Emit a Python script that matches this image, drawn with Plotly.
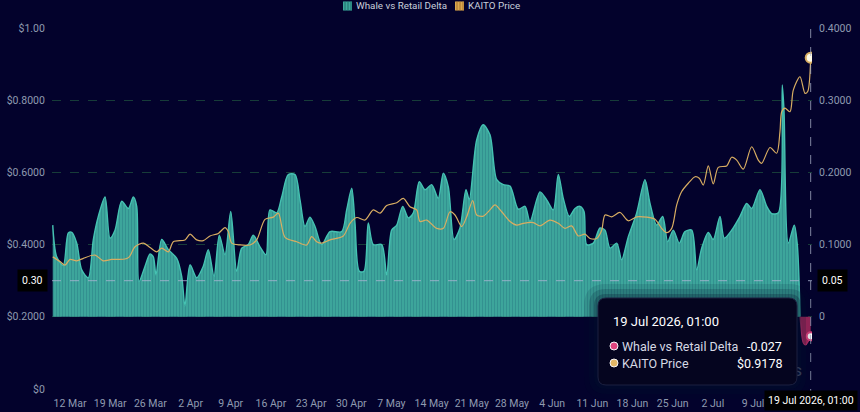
import pandas as pd
import plotly.graph_objects as go

# ---------------- data ----------------
ORIGIN = pd.Timestamp("2026-03-12 00:00")  # day offsets are measured from here

delta_days = [-3.01, -2.32, -1.17, -0.30, 0.30, 1.17, 2.04, 3.19, 4.06, 4.93, 6.10, 6.97, 7.84,
              9.01, 10.16, 11.03, 11.62, 12.02, 13.07, 13.94, 14.51, 14.98, 15.98, 17.13, 18.59,
              19.46, 20.03, 20.91, 22.07, 23.22, 24.09, 25.09, 26.01, 27.00, 28.00, 29.04, 29.91,
              31.06, 31.93, 33.10, 34.15, 34.84, 36.01, 36.88, 38.03, 39.20, 40.07, 40.94, 41.81,
              42.68, 43.85, 45.30, 47.33, 48.20, 49.08, 49.65, 50.40, 51.22, 51.97, 52.84, 54.30,
              55.17, 56.04, 56.92, 57.96, 58.94, 59.81, 60.85, 61.85, 63.01, 64.16, 65.04, 65.91,
              66.90, 67.94, 68.99, 69.56, 70.85, 72.00, 73.17, 74.34, 75.49, 76.66, 78.10, 79.27,
              80.14, 81.88, 83.05, 84.20, 85.07, 85.94, 86.99, 87.98, 88.85, 89.55, 90.02, 91.17,
              92.33, 93.21, 94.08, 95.24, 96.11, 97.27, 98.73, 100.17, 101.05, 102.21, 103.26,
              104.13, 105.10, 106.15, 107.14, 108.31, 109.18, 110.05, 111.20, 112.07, 113.24,
              113.99, 115.28, 116.72, 117.89, 118.76, 120.21, 121.38, 122.25, 123.40, 124.09,
              124.39, 125.14, 126.18, 126.71, 127.20]
delta_vals = [0.127, 0.083, 0.071, 0.116, 0.117, 0.102, 0.065, 0.054, 0.107, 0.139, 0.166, 0.109, 0.120,
              0.160, 0.150, 0.166, 0.153, 0.049, 0.070, 0.087, 0.083, 0.058, 0.107, 0.093, 0.081,
              0.056, 0.015, 0.072, 0.054, 0.070, 0.093, 0.056, 0.113, 0.086, 0.146, 0.063, 0.095,
              0.100, 0.113, 0.097, 0.086, 0.148, 0.144, 0.166, 0.197, 0.197, 0.162, 0.125, 0.138,
              0.125, 0.100, 0.118, 0.118, 0.148, 0.178, 0.130, 0.063, 0.063, 0.130, 0.100, 0.100,
              0.058, 0.120, 0.127, 0.153, 0.137, 0.144, 0.187, 0.176, 0.183, 0.164, 0.199, 0.180,
              0.107, 0.123, 0.176, 0.162, 0.245, 0.266, 0.252, 0.190, 0.183, 0.181, 0.149, 0.153,
              0.132, 0.173, 0.162, 0.148, 0.197, 0.164, 0.139, 0.150, 0.153, 0.146, 0.100, 0.102,
              0.123, 0.120, 0.095, 0.102, 0.079, 0.111, 0.144, 0.190, 0.157, 0.127, 0.139,
              0.104, 0.120, 0.102, 0.118, 0.120, 0.065, 0.095, 0.117, 0.107, 0.139,
              0.109, 0.120, 0.139, 0.157, 0.150, 0.176, 0.153, 0.143, 0.144, 0.321,
              0.286, 0.102, 0.127, 0.100, 0.000]

neg_days = [127.20, 127.75, 128.17, 128.62, 129.0417]
neg_vals = [0.000, -0.036, -0.039, -0.034, -0.027]

price_days = [-3.01, -1.74, -0.87, 0.00, 1.17, 2.32, 4.36, 5.80, 7.26, 9.58, 10.33, 11.32, 12.77,
              13.94, 15.10, 15.98, 17.13, 18.00, 20.03, 20.91, 22.07, 23.22, 24.39, 25.84, 27.00,
              27.58, 28.17, 29.62, 31.36, 32.53, 33.97, 35.42, 36.29, 37.46, 39.49, 41.24, 42.11,
              42.98, 43.85, 45.30, 47.61, 48.78, 49.95, 51.39, 52.84, 54.01, 55.17, 56.92, 58.07,
              59.23, 60.40, 60.98, 62.14, 63.89, 65.04, 66.20, 67.07, 68.24, 69.11, 70.16, 70.85,
              72.00, 73.17, 74.04, 75.21, 76.66, 77.82, 78.97, 80.71, 81.88, 83.62, 85.07, 86.24,
              87.40, 88.55, 89.72, 90.59, 91.76, 92.63, 93.21, 94.37, 95.82, 97.26, 98.73, 100.47,
              101.92, 103.08, 103.95, 104.83, 105.70, 106.57, 107.72, 108.89, 109.63, 110.33,
              111.20, 112.07, 112.94, 114.41, 115.28, 116.15, 117.30, 118.76, 119.91, 120.50,
              121.95, 123.12, 123.69, 123.99, 124.56, 125.44, 126.01, 127.18, 128.05, 128.52,
              129.0417]
price_vals = [0.366, 0.353, 0.343, 0.359, 0.355, 0.362, 0.371, 0.355, 0.359, 0.360, 0.366, 0.394, 0.404,
              0.392, 0.380, 0.390, 0.380, 0.408, 0.413, 0.429, 0.413, 0.411, 0.424, 0.431, 0.447,
              0.436, 0.404, 0.399, 0.399, 0.413, 0.470, 0.476, 0.487, 0.420, 0.408, 0.399, 0.422,
              0.408, 0.404, 0.413, 0.424, 0.459, 0.475, 0.468, 0.496, 0.487, 0.508, 0.516, 0.528,
              0.505, 0.496, 0.464, 0.468, 0.445, 0.445, 0.491, 0.482, 0.450, 0.477, 0.522, 0.482,
              0.479, 0.496, 0.510, 0.491, 0.464, 0.454, 0.459, 0.461, 0.452, 0.468, 0.459, 0.445,
              0.452, 0.424, 0.429, 0.417, 0.417, 0.440, 0.482, 0.477, 0.489, 0.466, 0.477, 0.476,
              0.470, 0.445, 0.433, 0.445, 0.510, 0.547, 0.570, 0.588, 0.584, 0.565,
              0.618, 0.568, 0.614, 0.618, 0.642, 0.634, 0.609, 0.671, 0.634, 0.625,
              0.669, 0.653, 0.713, 0.768, 0.778, 0.768, 0.828, 0.865, 0.819, 0.824,
              0.9178]

tick_dates = ["2026-03-12", "2026-03-19", "2026-03-26", "2026-04-02", "2026-04-09", "2026-04-16",
              "2026-04-23", "2026-04-30", "2026-05-07", "2026-05-14", "2026-05-21", "2026-05-28",
              "2026-06-04", "2026-06-11", "2026-06-18", "2026-06-25", "2026-07-02", "2026-07-09"]
price_ticks = [0, 0.2, 0.4, 0.6, 0.8, 1.0]
price_tick_text = ["$0", "$0.2000", "$0.4000", "$0.6000", "$0.8000", "$1.00"]
delta_ticks = [0, 0.1, 0.2, 0.3, 0.4]
delta_tick_text = ["0", "0.1000", "0.2000", "0.3000", "0.4000"]

series_names = ["Whale vs Retail Delta", "KAITO Price"]
cursor_date = "2026-07-19 01:00"
cursor_label = "19 Jul 2026, 01:00"
cursor_price = 0.30
cursor_delta = 0.05
last_delta = -0.027
last_price = 0.9178

# ---------------- styling ----------------
BG = "#03022c"
TEAL = "#3da69c"
TEAL_STRIPE = "#2a7c84"
TEAL_LINE = "#45c2b2"
RED = "#a3265c"
RED_LINE = "#c2306c"
GOLD = "#d8ad62"
AXIS_TXT = "#8f9bb0"
FONT = "Roboto, DejaVu Sans, sans-serif"

W, H = 860, 412
L, R, T, B = 52, 812, 28, 389  # plot area in pixels


def px(x):
    return (x - L) / (R - L)


def py(y):
    return (B - y) / (B - T)


def to_dates(days):
    return [ORIGIN + pd.Timedelta(days=d) for d in days]


fig = go.Figure()

# delta (base axis "y", right side)
fig.add_trace(go.Scatter(
    x=to_dates(delta_days), y=delta_vals, mode="lines", yaxis="y", name=series_names[0],
    line=dict(color=TEAL_LINE, width=1.4, shape="spline", smoothing=0.8),
    fill="tozeroy", fillcolor=TEAL,
    fillpattern=dict(shape="|", fgcolor=TEAL_STRIPE, bgcolor=TEAL, size=3, solidity=0.4),
    showlegend=False, hoverinfo="skip"))
fig.add_trace(go.Scatter(
    x=to_dates(neg_days), y=neg_vals, mode="lines", yaxis="y", name=series_names[0],
    line=dict(color=RED_LINE, width=1.2, shape="spline", smoothing=0.8),
    fill="tozeroy", fillcolor=RED,
    showlegend=False, hoverinfo="skip"))

# price (overlay axis "y2", left side)
fig.add_trace(go.Scatter(
    x=to_dates(price_days), y=price_vals, mode="lines", yaxis="y2", name=series_names[1],
    line=dict(color=GOLD, width=1.2, shape="spline", smoothing=0.8),
    showlegend=False, hoverinfo="skip"))

# end-point markers
fig.add_trace(go.Scatter(
    x=[pd.Timestamp(cursor_date)], y=[last_delta], mode="markers", yaxis="y",
    marker=dict(size=8, color="#ffffff", line=dict(color="#e0457f", width=2)),
    showlegend=False, hoverinfo="skip"))
fig.add_trace(go.Scatter(
    x=[pd.Timestamp(cursor_date)], y=[last_price], mode="markers", yaxis="y2",
    marker=dict(size=10, color="#fffbe8", line=dict(color=GOLD, width=2)),
    showlegend=False, hoverinfo="skip"))

start_range = "2026-03-08 20:40"
end_range = "2026-07-19 06:30"

fig.update_layout(
    width=W, height=H,
    margin=dict(l=L, r=W - R, t=T, b=H - B, autoexpand=False),
    paper_bgcolor=BG, plot_bgcolor=BG,
    font=dict(family=FONT, color=AXIS_TXT, size=10),
    showlegend=False,
    xaxis=dict(type="date", range=[start_range, end_range],
               tickvals=tick_dates, tickformat="%-d %b",
               showgrid=False, zeroline=False, showline=False, ticks="outside", ticklen=4,
               tickcolor="rgba(0,0,0,0)",
               tickfont=dict(size=10.5, color=AXIS_TXT)),
    yaxis=dict(range=[-0.1, 0.4], side="right", tickvals=delta_ticks, ticktext=delta_tick_text,
               showgrid=False, zeroline=False, showline=False, ticks="outside", ticklen=4,
               tickcolor="rgba(0,0,0,0)",
               tickfont=dict(size=10.5, color=AXIS_TXT)),
    yaxis2=dict(range=[0, 1.0], side="left", overlaying="y", tickvals=price_ticks,
                ticktext=price_tick_text, showgrid=True, gridcolor="rgba(40,110,70,0.55)",
                griddash="dash", gridwidth=1, zeroline=False, showline=False, ticks="outside",
                ticklen=4, tickcolor="rgba(0,0,0,0)",
                tickfont=dict(size=10.5, color=AXIS_TXT)),
    hovermode=False,
)

shapes = []
# custom legend icons (striped squares)
for x0, base, stripe in [(343, TEAL, "#1f6f6a"), (455, "#d9a84e", "#a8722f")]:
    shapes.append(dict(type="rect", xref="paper", yref="paper", x0=px(x0), x1=px(x0 + 9),
                       y0=py(10.5), y1=py(1.5), fillcolor=base, line=dict(width=0), layer="above"))
    for k in range(3):
        sx = x0 + 1.5 + 3 * k
        shapes.append(dict(type="rect", xref="paper", yref="paper", x0=px(sx), x1=px(sx + 1),
                           y0=py(10.5), y1=py(1.5), fillcolor=stripe, line=dict(width=0),
                           layer="above"))

# crosshair lines
shapes.append(dict(type="line", xref="x", yref="paper", x0=cursor_date, x1=cursor_date,
                   y0=py(398), y1=1, line=dict(color="rgba(170,178,200,0.75)", width=1, dash="dash"),
                   layer="above"))
shapes.append(dict(type="line", xref="paper", yref="y2", x0=0, x1=1, y0=cursor_price, y1=cursor_price,
                   line=dict(color="rgba(170,180,210,0.8)", width=1, dash="dash"), layer="above"))

# watermark (mostly hidden behind the tooltip)
shapes.append(dict(type="rect", xref="paper", yref="paper", x0=px(690), x1=px(808),
                   y0=py(378), y1=py(360), line=dict(width=0), fillcolor="rgba(0,0,0,0)",
                   layer="above",
                   label=dict(text="Coinglass", textposition="middle right",
                              font=dict(size=17, color="rgba(150,160,185,0.6)", family=FONT))))


def rounded_rect(x0, y0, x1, y1, r):
    # pixel coords -> paper path with rounded corners
    rx, ry = r / (R - L), r / (B - T)
    a, b, c, d = px(x0), py(y1), px(x1), py(y0)  # left, bottom, right, top in paper
    return (f"M {a+rx},{d} L {c-rx},{d} Q {c},{d} {c},{d-ry} L {c},{b+ry} Q {c},{b} {c-rx},{b} "
            f"L {a+rx},{b} Q {a},{b} {a},{b+ry} L {a},{d-ry} Q {a},{d} {a+rx},{d} Z")


# tooltip shadow + box
for grow, op in [(14, 0.12), (9, 0.18), (4, 0.25)]:
    shapes.append(dict(type="path", xref="paper", yref="paper",
                       path=rounded_rect(598 - grow, 298 - grow, 797 + grow, 385 + grow, 8 + grow),
                       fillcolor=f"rgba(2,20,45,{op})", line=dict(width=0), layer="above"))
shapes.append(dict(type="path", xref="paper", yref="paper",
                   path=rounded_rect(598, 298, 797, 385, 8),
                   fillcolor="#05051f", line=dict(color="#1c2040", width=1), layer="above"))
# tooltip dots
for yy, col in [(346, "#e0457f"), (363, "#e2b766")]:
    shapes.append(dict(type="circle", xref="paper", yref="paper",
                       xsizemode="pixel", ysizemode="pixel", xanchor=px(614), yanchor=py(yy),
                       x0=-4, x1=4, y0=-4, y1=4, fillcolor=col,
                       line=dict(color="#f4f4f8", width=1), layer="above"))
fig.update_layout(shapes=shapes)

ann = []
# custom legend texts
for x0, name in [(354, series_names[0]), (466, series_names[1])]:
    ann.append(dict(xref="paper", yref="paper", x=px(x0), y=py(6), xanchor="left", yanchor="middle",
                    text=name, showarrow=False, font=dict(size=9.8, color="#c9cfdb")))
# crosshair value labels
ann.append(dict(xref="paper", yref="y2", x=px(48), y=cursor_price, xanchor="right", yanchor="middle",
                text=f"{cursor_price:.2f}", showarrow=False, bgcolor="#000000",
                font=dict(size=10.5, color="#ffffff"), borderpad=4))
ann.append(dict(xref="paper", yref="y", x=px(817), y=cursor_delta, xanchor="left", yanchor="middle",
                text=f"{cursor_delta:.2f}", showarrow=False, bgcolor="#000000",
                font=dict(size=10.5, color="#ffffff"), borderpad=4))
ann.append(dict(xref="x", yref="paper", x=cursor_date, y=py(401), xanchor="center", yanchor="middle",
                text=cursor_label, showarrow=False, bgcolor="#000000",
                font=dict(size=10.5, color="#ffffff"), borderpad=3))
# tooltip texts
ann.append(dict(xref="paper", yref="paper", x=px(611), y=py(321), xanchor="left", yanchor="middle",
                text=cursor_label, showarrow=False, font=dict(size=13, color="#ffffff")))
ann.append(dict(xref="paper", yref="paper", x=px(620), y=py(346), xanchor="left", yanchor="middle",
                text=series_names[0], showarrow=False, font=dict(size=12.5, color="#d6d9e4")))
ann.append(dict(xref="paper", yref="paper", x=px(620), y=py(363), xanchor="left", yanchor="middle",
                text=series_names[1], showarrow=False, font=dict(size=12.5, color="#d6d9e4")))
ann.append(dict(xref="paper", yref="paper", x=px(784), y=py(346), xanchor="right", yanchor="middle",
                text=f"{last_delta:.3f}", showarrow=False, font=dict(size=12.5, color="#ffffff")))
ann.append(dict(xref="paper", yref="paper", x=px(784), y=py(363), xanchor="right", yanchor="middle",
                text=f"${last_price:.4f}", showarrow=False, font=dict(size=12.5, color="#ffffff")))
fig.update_layout(annotations=ann)

fig.write_html("out.html")
